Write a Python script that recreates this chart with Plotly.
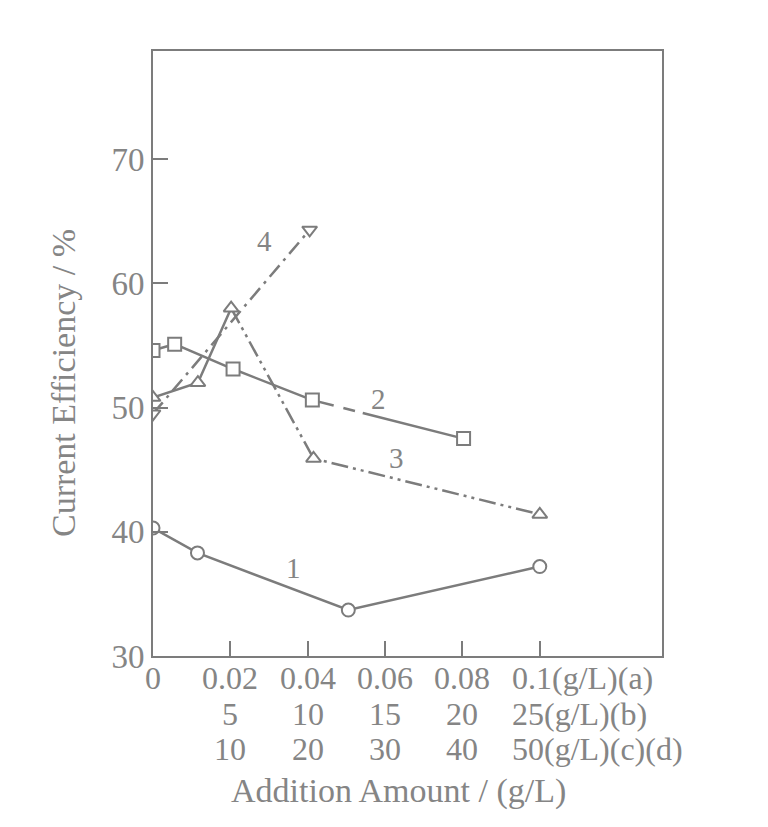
import plotly.graph_objects as go

# data, x in the (a) scale of the axis
x_1 = [0, 0.0115, 0.0505, 0.1]
y_1 = [40.3, 38.3, 33.7, 37.2]
x_2 = [0, 0.0056, 0.0207, 0.0412, 0.0803]
y_2 = [54.6, 55.1, 53.1, 50.6, 47.5]
x_3 = [0, 0.0116, 0.0202, 0.0415, 0.1]
y_3 = [50.8, 52.0, 58.0, 45.9, 41.4]
x_4 = [0, 0.0405]
y_4 = [49.5, 64.3]

tick_x = [0, 0.02, 0.04, 0.06, 0.08, 0.1]
row_a = ['0', '0.02', '0.04', '0.06', '0.08', '0.1(g/L)(a)']
row_b = ['', '5', '10', '15', '20', '25(g/L)(b)']
row_c = ['', '10', '20', '30', '40', '50(g/L)(c)(d)']
y_ticks = [30, 40, 50, 60, 70]

curve_names = ['1', '2', '3', '4']
label_x = [0.0362, 0.0582, 0.063, 0.0287]
label_y = [37.1, 50.7, 45.9, 63.4]

gray = '#7c7c7c'
text_gray = '#858585'
serif = 'Liberation Serif, Times New Roman, serif'
dashdotdot = '17px,5px,3px,5px,3px,5px'
dashdot = '15px,6px,3px,6px'

fig = go.Figure()

def seg(x, y, dash):
    fig.add_trace(go.Scatter(x=x, y=y, mode='lines', showlegend=False,
                             line=dict(color=gray, width=2.5, dash=dash)))

def marks(x, y, symbol):
    fig.add_trace(go.Scatter(x=x, y=y, mode='markers', showlegend=False,
                             marker=dict(symbol=symbol, size=13, color='white',
                                         line=dict(color=gray, width=2))))

# curve 1
seg(x_1, y_1, 'solid')
# curve 2: solid, last part broken near the label
seg(x_2[:4], y_2[:4], 'solid')
seg(x_2[3:], y_2[3:], '22px,10px,12px,8px,400px')
# curve 3
seg(x_3[:3], y_3[:3], 'solid')
seg(x_3[2:], y_3[2:], dashdotdot)
# curve 4
seg(x_4, y_4, dashdot)

marks(x_1, y_1, 'circle')
marks(x_2, y_2, 'square')
marks(x_3, y_3, 'triangle-up')
marks(x_4, y_4, 'triangle-down')

ann = []
for n, lx, ly in zip(curve_names, label_x, label_y):
    ann.append(dict(x=lx, y=ly, text=n, showarrow=False,
                    font=dict(family=serif, size=29, color=text_gray)))

# three rows of x tick labels
for row, shift in zip([row_a, row_b, row_c], [-22, -58, -93]):
    for tx, t in zip(tick_x, row):
        if not t:
            continue
        a = dict(x=tx, y=0, xref='x', yref='paper', text=t, showarrow=False,
                 yanchor='middle', yshift=shift,
                 font=dict(family=serif, size=32, color=text_gray))
        if '(' in t:
            a['xanchor'] = 'left'
            a['xshift'] = -30
        ann.append(a)

ann.append(dict(x=0.483, y=0, xref='paper', yref='paper', yshift=-135,
                text='Addition Amount / (g/L)', showarrow=False,
                yanchor='middle',
                font=dict(family=serif, size=34, color=text_gray)))
ann.append(dict(x=-0.177, y=0.451, xref='paper', yref='paper',
                text='Current Efficiency / %', showarrow=False,
                textangle=-90, xanchor='center', yanchor='middle',
                font=dict(family=serif, size=34, color=text_gray)))

fig.update_layout(
    width=768, height=827,
    margin=dict(l=145, r=114, t=43, b=179),
    paper_bgcolor='white', plot_bgcolor='white',
    annotations=ann,
    xaxis=dict(range=[0, 0.1316], showgrid=False, zeroline=False,
               showline=True, mirror=True, linecolor=gray, linewidth=2,
               tickvals=tick_x[1:], ticks='inside', ticklen=15,
               tickcolor=gray, tickwidth=2, showticklabels=False),
    yaxis=dict(range=[30, 78.7], showgrid=False, zeroline=False,
               showline=True, mirror=True, linecolor=gray, linewidth=2,
               tickvals=y_ticks, ticks='inside', ticklen=15,
               tickcolor=gray, tickwidth=2,
               tickfont=dict(family=serif, size=33, color=text_gray)),
)

fig.write_html('out.html')
